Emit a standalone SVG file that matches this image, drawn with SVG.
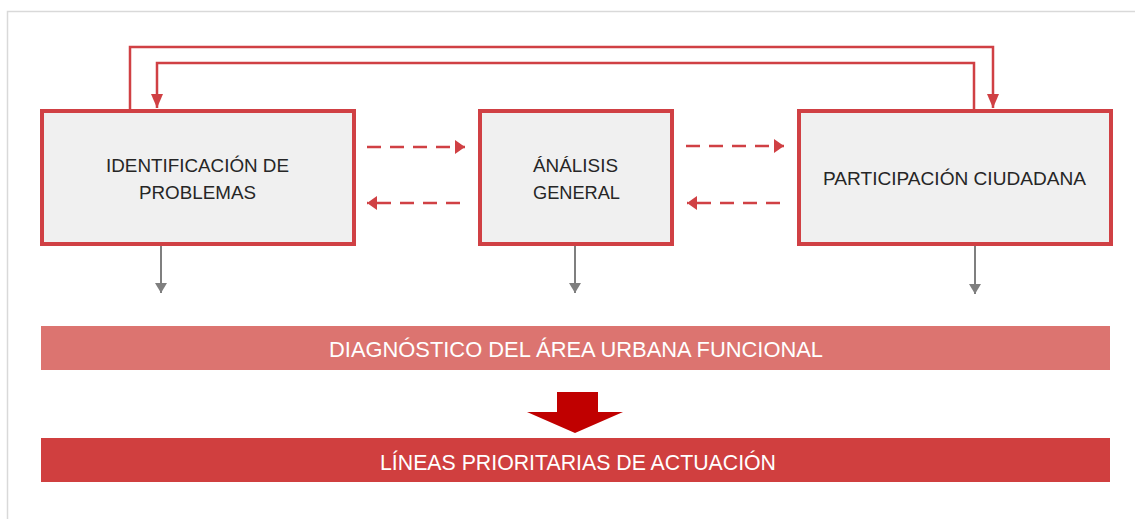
<svg xmlns="http://www.w3.org/2000/svg" width="1135" height="519" viewBox="0 0 1135 519">
<style>
.box{fill:#f0f0f0;stroke:#d04044;stroke-width:4}
.lbl{font-family:"Liberation Sans",Arial,sans-serif;font-size:19px;fill:#262626;text-anchor:middle}
.bar{font-family:"Liberation Sans",Arial,sans-serif;font-size:22px;fill:#ffffff;text-anchor:middle}
.loop{fill:none;stroke:#d04044;stroke-width:2.5}
.dash{fill:none;stroke:#d04044;stroke-width:2.5;stroke-dasharray:14 9}
.gray{fill:none;stroke:#7f7f7f;stroke-width:2}
</style>
<defs>
<marker id="ar" markerWidth="16" markerHeight="12" refX="14" refY="6" orient="auto" markerUnits="userSpaceOnUse">
<path d="M0,0 L14,6 L0,12 Z" fill="#d04044"/>
</marker>
<marker id="ad" markerWidth="12" markerHeight="14" refX="10" refY="7" orient="auto" markerUnits="userSpaceOnUse">
<path d="M0,0 L10,7 L0,14 Z" fill="#d04044"/>
</marker>
<marker id="ag" markerWidth="12" markerHeight="12" refX="10" refY="6" orient="auto" markerUnits="userSpaceOnUse">
<path d="M0,0 L10,6 L0,12 Z" fill="#7f7f7f"/>
</marker>
</defs>
<rect x="0" y="0" width="1135" height="519" fill="#ffffff"/>
<path d="M7.5,519 V11.5 H1135" fill="none" stroke="#d9d9d9" stroke-width="1.5"/>
<g id="connectors">
<path class="loop" d="M130,109 V47 H993 V108" marker-end="url(#ar)"/>
<path class="loop" d="M974,109 V63 H157 V108" marker-end="url(#ar)"/>
<path class="dash" d="M367,147 H465" marker-end="url(#ad)"/>
<path class="dash" d="M460,203 H367" marker-end="url(#ad)"/>
<path class="dash" d="M686,146 H784" marker-end="url(#ad)"/>
<path class="dash" d="M780,203 H687" marker-end="url(#ad)"/>
<path class="gray" d="M161,246 V293" marker-end="url(#ag)"/>
<path class="gray" d="M575,246 V293" marker-end="url(#ag)"/>
<path class="gray" d="M975,246 V294" marker-end="url(#ag)"/>
<path d="M557,392 H598 V412 H623 L575,433 L527,412 H557 Z" fill="#c00000"/>
</g>
<g id="n1">
<rect class="box" x="42" y="111" width="312" height="133"/>
<text class="lbl" x="197.5" y="172" textLength="183" lengthAdjust="spacingAndGlyphs">IDENTIFICACIÓN DE</text>
<text class="lbl" x="197.5" y="199" textLength="117" lengthAdjust="spacingAndGlyphs">PROBLEMAS</text>
</g>
<g id="n2">
<rect class="box" x="480" y="111" width="192" height="133"/>
<text class="lbl" x="575.5" y="172" textLength="85" lengthAdjust="spacingAndGlyphs">ÁNÁLISIS</text>
<text class="lbl" x="576.5" y="199" textLength="87" lengthAdjust="spacingAndGlyphs">GENERAL</text>
</g>
<g id="n3">
<rect class="box" x="799" y="111" width="312" height="133"/>
<text class="lbl" x="954.5" y="185" textLength="263" lengthAdjust="spacingAndGlyphs">PARTICIPACIÓN CIUDADANA</text>
</g>
<g id="diag">
<rect x="41" y="326" width="1069" height="44" fill="#dc7470"/>
<text class="bar" x="576" y="357" textLength="494" lengthAdjust="spacingAndGlyphs">DIAGNÓSTICO DEL ÁREA URBANA FUNCIONAL</text>
</g>
<g id="lineas">
<rect x="41" y="438" width="1069" height="44" fill="#d03f3f"/>
<text class="bar" x="578" y="470" textLength="396" lengthAdjust="spacingAndGlyphs">LÍNEAS PRIORITARIAS DE ACTUACIÓN</text>
</g>
</svg>
